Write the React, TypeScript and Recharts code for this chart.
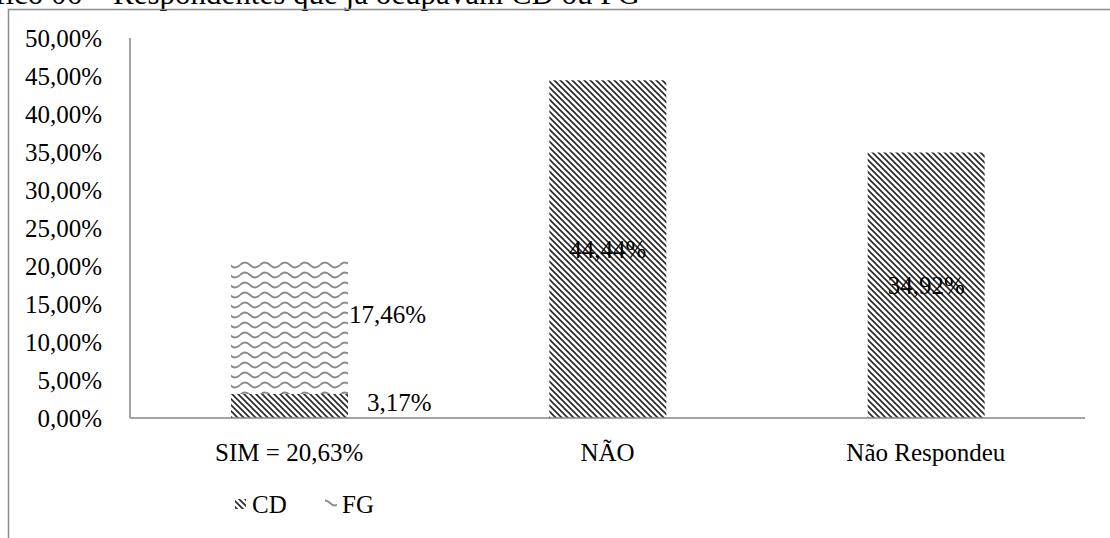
import React from 'react';
import {Bar, BarChart, LabelList, Legend, XAxis, YAxis} from 'recharts';

const categories = ['SIM = 20,63%', 'NÃO', 'Não Respondeu'];
const cdValues = [3.17, 44.44, 34.92];
const fgValues = [17.46, 0, 0];
const yTicks = [0, 5, 10, 15, 20, 25, 30, 35, 40, 45, 50];

const data = categories.map((name, i) => ({name, CD: cdValues[i], FG: fgValues[i]}));

const FONT = 'Liberation Serif, Times New Roman, serif';

const fmt = (v: number) => v.toFixed(2).replace('.', ',') + '%';

const renderCdLabel = (props: any) => {
    const {x, y, width, height, value, index} = props;
    if (!value) return null;
    if (index === 0) {
        return (
            <text x={x + width + 19} y={y + height / 2 - 3} dominantBaseline="central"
                  fontSize={25} fontFamily={FONT} fill="#000">{fmt(value)}</text>
        );
    }
    return (
        <text x={x + width / 2} y={y + height / 2} textAnchor="middle" dominantBaseline="central"
              fontSize={25} fontFamily={FONT} fill="#000">{fmt(value)}</text>
    );
};

const renderFgLabel = (props: any) => {
    const {x, y, width, height, value} = props;
    if (!value) return null;
    return (
        <text x={x + width + 1} y={y + height / 2 - 13} dominantBaseline="central"
              fontSize={25} fontFamily={FONT} fill="#000">{fmt(value)}</text>
    );
};

const renderLegend = () => (
    <svg width={1110} height={60} style={{display: 'block'}}>
        <rect x={235} y={41} width={11} height={10} fill="url(#cdPattern)"/>
        <text x={252} y={46} dominantBaseline="central" fontSize={25} fontFamily={FONT} fill="#000">CD</text>
        <rect x={325} y={40} width={12} height={11} fill="url(#fgPattern)"/>
        <text x={342} y={46} dominantBaseline="central" fontSize={25} fontFamily={FONT} fill="#000">FG</text>
    </svg>
);

const App = () => {
    return (
        <div style={{position: 'absolute', left: 0, top: 0, width: 1110, height: 538, overflow: 'hidden', background: '#fff'}}>
            <svg width={1110} height={538} style={{position: 'absolute', left: 0, top: 0}}>
                {/* chart caption, clipped by the top edge as in the source page */}
                <text x={640} y={4} textAnchor="end" fontSize={31} fontFamily={FONT} fill="#000">
                    Gráfico 06 – Respondentes que já ocupavam CD ou FG
                </text>
                <rect x={8.5} y={9.5} width={1200} height={600} fill="none" stroke="#8c8c8c" strokeWidth={1.5}/>
            </svg>
            <div style={{position: 'absolute', left: 0, top: 0}}>
                <BarChart width={1110} height={538} data={data}
                          margin={{top: 38, right: 25, bottom: 20, left: 0}}>
                    <defs>
                        <pattern id="cdPattern" patternUnits="userSpaceOnUse" width={6} height={6}>
                            <rect width={6} height={6} fill="#fff"/>
                            <path d="M-1,5 l2,2 M0,0 l6,6 M5,-1 l2,2" stroke="#262626" strokeWidth={1.6}/>
                        </pattern>
                        <pattern id="fgPattern" patternUnits="userSpaceOnUse" width={20} height={10}>
                            <rect width={20} height={10} fill="#fff"/>
                            <path d="M0,5 Q5,0 10,5 T20,5" fill="none" stroke="#8a8a8a" strokeWidth={1.8}/>
                        </pattern>
                    </defs>
                    <XAxis dataKey="name" height={40} axisLine={{stroke: '#868686', strokeWidth: 1.5}}
                           tickLine={false} tickSize={0} tickMargin={25}
                           tick={{fill: '#000', fontSize: 25, fontFamily: FONT}}/>
                    <YAxis width={130} domain={[0, 50]} ticks={yTicks} tickFormatter={fmt}
                           axisLine={{stroke: '#868686', strokeWidth: 1.5}} tickLine={false}
                           tickSize={0} tickMargin={28} interval={0}
                           tick={{fill: '#000', fontSize: 25, fontFamily: FONT}}/>
                    <Legend verticalAlign="bottom" align="left" height={60} content={renderLegend}/>
                    <Bar dataKey="CD" stackId="a" fill="url(#cdPattern)" barSize={117} isAnimationActive={false}>
                        <LabelList dataKey="CD" content={renderCdLabel}/>
                    </Bar>
                    <Bar dataKey="FG" stackId="a" fill="url(#fgPattern)" barSize={117} isAnimationActive={false}>
                        <LabelList dataKey="FG" content={renderFgLabel}/>
                    </Bar>
                </BarChart>
            </div>
        </div>
    );
};

export default App;
